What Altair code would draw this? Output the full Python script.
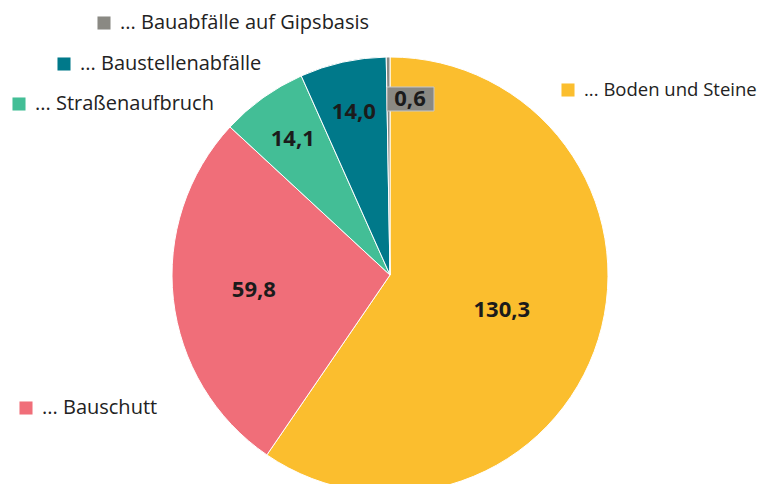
import altair as alt
import pandas as pd
import math

categories = ["... Boden und Steine", "... Bauschutt", "... Straßenaufbruch",
              "... Baustellenabfälle", "... Bauabfälle auf Gipsbasis"]
values = [130.3, 59.8, 14.1, 14.0, 0.6]
labels = ["130,3", "59,8", "14,1", "14,0", "0,6"]
colors = ["#FBBE2E", "#F06E79", "#43BE96", "#00798A", "#8A8983"]

df = pd.DataFrame({"cat": categories, "value": values, "label": labels,
                   "order": list(range(len(categories)))})

# layout (chart coordinates, page offset 8px)
CX, CY, R = 382, 267, 218
FONT = "Open Sans"
legend_pos = {  # square centre, font size
    "... Boden und Steine": (560, 82, 18.5),
    "... Bauschutt": (18, 400, 20),
    "... Straßenaufbruch": (11, 96, 20),
    "... Baustellenabfälle": (56, 56, 20),
    "... Bauabfälle auf Gipsbasis": (96, 15, 20),
}

color_scale = alt.Scale(domain=categories, range=colors)
base = alt.Chart(df)

pie = base.mark_arc(outerRadius=R, stroke="white", strokeWidth=1).encode(
    theta=alt.Theta("value:Q", stack=True),
    order=alt.Order("order:Q"),
    color=alt.Color("cat:N", scale=color_scale, legend=None),
    x=alt.value(CX), y=alt.value(CY),
)

big_labels = base.transform_joinaggregate(total="sum(value)").transform_window(
    cum="sum(value)", sort=[alt.SortField("order")]
).transform_calculate(
    ang=f"(datum.cum - datum.value / 2) / datum.total * 2 * {math.pi}",
    rr="datum.value > 100 ? 117 : (datum.value > 50 ? 137 : 167)",
).transform_filter("datum.value > 1").mark_text(
    font=FONT, fontWeight="bold", fontSize=22, color="#1b1b1b"
).encode(
    theta=alt.Theta("ang:Q", scale=None),
    radius=alt.Radius("rr:Q", scale=None),
    text="label:N",
    x=alt.value(CX), y=alt.value(CY),
)

small = df[df["value"] < 1]
box = alt.Chart(small).mark_rect(fill="#8A8983", stroke="#c8c8c8", strokeWidth=1).encode(
    x=alt.value(379), x2=alt.value(426), y=alt.value(79), y2=alt.value(103),
)
small_label = alt.Chart(small).mark_text(
    font=FONT, fontWeight="bold", fontSize=22, color="#1b1b1b"
).encode(text="label:N", x=alt.value(402), y=alt.value(91))

layers = [pie, big_labels, box, small_label]
for cat, col in zip(categories, colors):
    sx, sy, fs = legend_pos[cat]
    d = df[df["cat"] == cat]
    layers.append(alt.Chart(d).mark_square(size=170, color=col, opacity=1).encode(
        x=alt.value(sx), y=alt.value(sy)))
    layers.append(alt.Chart(d).mark_text(
        font=FONT, fontSize=fs, color="#222222", align="left", baseline="middle"
    ).encode(text="cat:N", x=alt.value(sx + 16), y=alt.value(sy)))

chart = alt.layer(*layers).properties(
    width=758, height=476, padding=0,
    autosize=alt.AutoSizeParams(type="none"),
).configure_view(stroke=None)

chart.save("out.html", embed_options={"renderer": "svg", "actions": False})
